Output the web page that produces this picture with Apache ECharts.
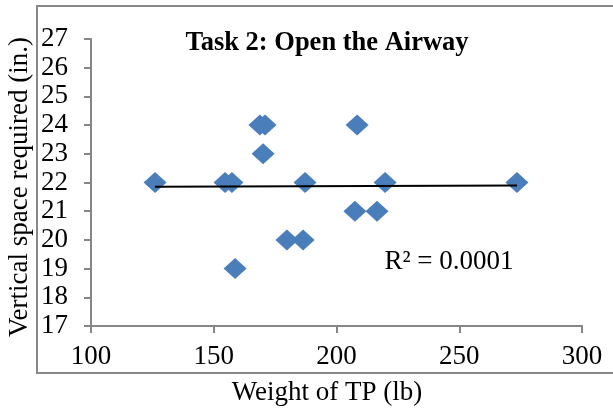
<!DOCTYPE html>
<html>
<head>
<meta charset="UTF-8">
<title>Task 2: Open the Airway</title>
<script src="https://cdn.jsdelivr.net/npm/echarts@6/dist/echarts.min.js"></script>
</head>
<body style="margin:0">
<div id="chart" style="width:613px;height:413px;"></div>
<script type="text/javascript">
// weight of TP (lb) and vertical space required (in.)
var weights = [126.1, 154.6, 157.4, 168.8, 170.9, 170.1, 187.2, 208.4, 219.8, 273.5, 207.5, 216.5, 158.7, 179.8, 186.4];
var spaces  = [22, 22, 22, 24, 24, 23, 22, 24, 22, 22, 21, 21, 19, 20, 20];
var xTicks = [100, 150, 200, 250, 300];
var yTicks = [17, 18, 19, 20, 21, 22, 23, 24, 25, 26, 27];
var r2Label = 'R² = 0.0001';

var points = [];
for (var i = 0; i < weights.length; i++) {
	points.push([weights[i], spaces[i]]);
}

// linear trendline (least squares)
var n = weights.length, sx = 0, sy = 0, sxx = 0, sxy = 0;
for (var i = 0; i < n; i++) {
	sx += weights[i]; sy += spaces[i];
	sxx += weights[i] * weights[i]; sxy += weights[i] * spaces[i];
}
var slope = (n * sxy - sx * sy) / (n * sxx - sx * sx);
var icpt = (sy - slope * sx) / n;
var xMin = Math.min.apply(null, weights), xMax = Math.max.apply(null, weights);
var trend = [[xMin, icpt + slope * xMin], [xMax, icpt + slope * xMax]];

var font = '"Liberation Serif", "Times New Roman", serif';
var axisColor = '#868686';

var mychart = echarts.init(document.getElementById('chart'));
var option = {
	backgroundColor: '#fff',
	animation: false,
	grid: { left: 91, right: 31, top: 39, bottom: 87 },
	xAxis: {
		type: 'value',
		min: xTicks[0], max: xTicks[xTicks.length - 1], interval: 50,
		axisLine: { lineStyle: { color: axisColor, width: 2 } },
		axisTick: { show: true, length: 7, lineStyle: { color: axisColor, width: 2 } },
		splitLine: { show: false },
		axisLabel: { margin: 17, color: '#000', fontFamily: font, fontSize: 27 }
	},
	yAxis: {
		type: 'value',
		min: yTicks[0], max: yTicks[yTicks.length - 1], interval: 1,
		axisLine: { show: true, lineStyle: { color: axisColor, width: 2 } },
		axisTick: { show: true, length: 7, lineStyle: { color: axisColor, width: 2 } },
		splitLine: { show: false },
		axisLabel: { margin: 23, color: '#000', fontFamily: font, fontSize: 27 }
	},
	graphic: [
		{ type: 'rect', shape: { x: 37, y: 6, width: 600, height: 367 },
		  style: { fill: 'none', stroke: '#898989', lineWidth: 2 }, silent: true },
		{ type: 'text', x: 327, y: 43,
		  style: { text: 'Task 2: Open the Airway', fontFamily: font, fontWeight: 'bold', fontSize: 26.5,
		           fill: '#000', align: 'center', verticalAlign: 'middle' } },
		{ type: 'text', x: 327, y: 393,
		  style: { text: 'Weight of TP (lb)', fontFamily: font, fontSize: 27,
		           fill: '#000', align: 'center', verticalAlign: 'middle' } },
		{ type: 'text', x: 20, y: 187, rotation: Math.PI / 2,
		  style: { text: 'Vertical space required (in.)', fontFamily: font, fontSize: 27,
		           fill: '#000', align: 'center', verticalAlign: 'middle' } },
		{ type: 'text', x: 449, y: 262,
		  style: { text: r2Label, fontFamily: font, fontSize: 27,
		           fill: '#000', align: 'center', verticalAlign: 'middle' } }
	],
	series: [
		{
			type: 'scatter',
			symbol: 'diamond',
			symbolSize: [23, 21],
			itemStyle: { color: '#4A7EBB', opacity: 1 },
			data: points,
			z: 2
		},
		{
			type: 'line',
			data: trend,
			symbol: 'none',
			lineStyle: { color: '#000', width: 2 },
			z: 3
		}
	]
};
mychart.setOption(option);
</script>
</body>
</html>
